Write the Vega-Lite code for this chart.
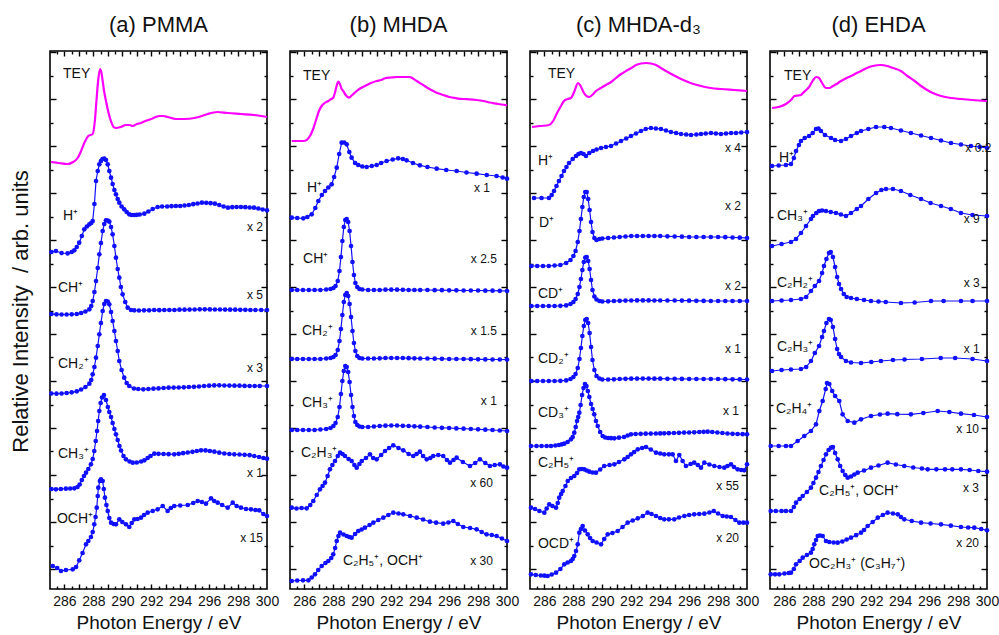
{
  "$schema": "https://vega.github.io/schema/vega-lite/v6.json",
  "background": "white",
  "padding": {"left": 8, "top": 13, "right": 10, "bottom": 5},
  "bounds": "flush",
  "spacing": 23,
  "config": {
    "font": "Arial, Liberation Sans, sans-serif",
    "view": {"stroke": "#000000", "strokeWidth": 1.6},
    "axis": {"domain": false, "grid": false, "tickColor": "#000000", "tickWidth": 1.4, "labelColor": "#111111", "labelFont": "Arial, Liberation Sans, sans-serif", "titleFont": "Arial, Liberation Sans, sans-serif", "titleColor": "#111111", "titleFontWeight": "normal", "minExtent": 0},
    "title": {"fontSize": 22, "fontWeight": "normal", "color": "#111111", "offset": 13, "font": "Arial, Liberation Sans, sans-serif"},
    "text": {"font": "Arial, Liberation Sans, sans-serif", "color": "#111111"}
  },
  "datasets": {
    "pmma": [
      {"s":"TEY","e":285.07,"i":427},{"s":"TEY","e":285.6,"i":426},{"s":"TEY","e":286.22,"i":425},{"s":"TEY","e":286.6,"i":427},{"s":"TEY","e":286.91,"i":431},{"s":"TEY","e":287.15,"i":438},{"s":"TEY","e":287.37,"i":446},{"s":"TEY","e":287.65,"i":453},{"s":"TEY","e":287.95,"i":455},{"s":"TEY","e":288.1,"i":468},{"s":"TEY","e":288.22,"i":490},{"s":"TEY","e":288.34,"i":510},{"s":"TEY","e":288.46,"i":520},{"s":"TEY","e":288.56,"i":516},{"s":"TEY","e":288.64,"i":508},{"s":"TEY","e":288.75,"i":497},{"s":"TEY","e":288.87,"i":488},{"s":"TEY","e":289.05,"i":476},{"s":"TEY","e":289.21,"i":468},{"s":"TEY","e":289.4,"i":462},{"s":"TEY","e":289.56,"i":461},{"s":"TEY","e":289.9,"i":462},{"s":"TEY","e":290.25,"i":464},{"s":"TEY","e":290.5,"i":464},{"s":"TEY","e":290.72,"i":463},{"s":"TEY","e":291.0,"i":465},{"s":"TEY","e":291.29,"i":466},{"s":"TEY","e":291.6,"i":468},{"s":"TEY","e":291.98,"i":470},{"s":"TEY","e":292.3,"i":472},{"s":"TEY","e":292.55,"i":473},{"s":"TEY","e":292.85,"i":473},{"s":"TEY","e":293.13,"i":472},{"s":"TEY","e":293.7,"i":470},{"s":"TEY","e":294.28,"i":470},{"s":"TEY","e":294.98,"i":471},{"s":"TEY","e":295.5,"i":473},{"s":"TEY","e":295.9,"i":475},{"s":"TEY","e":296.59,"i":477},{"s":"TEY","e":297.28,"i":476},{"s":"TEY","e":298.2,"i":475},{"s":"TEY","e":299.1,"i":474},{"s":"TEY","e":300,"i":472},
      {"s":"H+","e":285.1,"i":337},{"s":"H+","e":285.41,"i":338},{"s":"H+","e":285.8,"i":336},{"s":"H+","e":286.22,"i":335.7},{"s":"H+","e":286.5,"i":337},{"s":"H+","e":286.68,"i":338.7},{"s":"H+","e":286.85,"i":342},{"s":"H+","e":287.02,"i":346.3},{"s":"H+","e":287.2,"i":353},{"s":"H+","e":287.37,"i":359.7},{"s":"H+","e":287.55,"i":362.5},{"s":"H+","e":287.72,"i":364.7},{"s":"H+","e":287.85,"i":366},{"s":"H+","e":287.95,"i":368},{"s":"H+","e":288.07,"i":385},{"s":"H+","e":288.18,"i":408},{"s":"H+","e":288.3,"i":418},{"s":"H+","e":288.41,"i":424.7},{"s":"H+","e":288.52,"i":428},{"s":"H+","e":288.63,"i":430},{"s":"H+","e":288.75,"i":430.3},{"s":"H+","e":288.87,"i":429},{"s":"H+","e":288.99,"i":424.7},{"s":"H+","e":289.1,"i":418},{"s":"H+","e":289.22,"i":411.3},{"s":"H+","e":289.33,"i":405},{"s":"H+","e":289.45,"i":399},{"s":"H+","e":289.56,"i":394.7},{"s":"H+","e":289.68,"i":390},{"s":"H+","e":289.79,"i":386.3},{"s":"H+","e":289.95,"i":382.5},{"s":"H+","e":290.13,"i":379.7},{"s":"H+","e":290.3,"i":377},{"s":"H+","e":290.48,"i":374.7},{"s":"H+","e":290.65,"i":374},{"s":"H+","e":290.83,"i":374},{"s":"H+","e":291.0,"i":374.2},{"s":"H+","e":291.2,"i":374.5},{"s":"H+","e":291.52,"i":375.3},{"s":"H+","e":291.8,"i":377.5},{"s":"H+","e":292.1,"i":380},{"s":"H+","e":292.44,"i":382},{"s":"H+","e":292.75,"i":382.5},{"s":"H+","e":293.1,"i":382.5},{"s":"H+","e":293.4,"i":382.8},{"s":"H+","e":293.7,"i":383},{"s":"H+","e":294.0,"i":383},{"s":"H+","e":294.3,"i":383.5},{"s":"H+","e":294.6,"i":384},{"s":"H+","e":294.9,"i":384.8},{"s":"H+","e":295.2,"i":385.5},{"s":"H+","e":295.5,"i":386.3},{"s":"H+","e":295.8,"i":386.2},{"s":"H+","e":296.1,"i":385.8},{"s":"H+","e":296.4,"i":385.3},{"s":"H+","e":296.7,"i":384},{"s":"H+","e":297.0,"i":382.5},{"s":"H+","e":297.3,"i":381.3},{"s":"H+","e":297.6,"i":381.8},{"s":"H+","e":297.9,"i":382},{"s":"H+","e":298.2,"i":382},{"s":"H+","e":298.5,"i":381.8},{"s":"H+","e":298.8,"i":381.5},{"s":"H+","e":299.1,"i":381.3},{"s":"H+","e":299.4,"i":380.5},{"s":"H+","e":299.7,"i":379.5},{"s":"H+","e":300,"i":378.7},
      {"s":"CH+","e":285.1,"i":275},{"s":"CH+","e":285.45,"i":274.7},{"s":"CH+","e":285.8,"i":274.5},{"s":"CH+","e":286.15,"i":274.5},{"s":"CH+","e":286.5,"i":274.7},{"s":"CH+","e":286.85,"i":275},{"s":"CH+","e":287.15,"i":276},{"s":"CH+","e":287.45,"i":277.5},{"s":"CH+","e":287.72,"i":279.7},{"s":"CH+","e":287.85,"i":283},{"s":"CH+","e":287.95,"i":288},{"s":"CH+","e":288.07,"i":297},{"s":"CH+","e":288.18,"i":308},{"s":"CH+","e":288.3,"i":321},{"s":"CH+","e":288.41,"i":334.7},{"s":"CH+","e":288.52,"i":346},{"s":"CH+","e":288.64,"i":358},{"s":"CH+","e":288.75,"i":365},{"s":"CH+","e":288.87,"i":368.7},{"s":"CH+","e":288.99,"i":368.5},{"s":"CH+","e":289.1,"i":367.3},{"s":"CH+","e":289.22,"i":362},{"s":"CH+","e":289.33,"i":354.7},{"s":"CH+","e":289.45,"i":343},{"s":"CH+","e":289.56,"i":331.3},{"s":"CH+","e":289.68,"i":320},{"s":"CH+","e":289.79,"i":311.3},{"s":"CH+","e":289.9,"i":302},{"s":"CH+","e":290.02,"i":294.7},{"s":"CH+","e":290.2,"i":287},{"s":"CH+","e":290.37,"i":281.3},{"s":"CH+","e":290.6,"i":279},{"s":"CH+","e":290.83,"i":278.7},{"s":"CH+","e":291.15,"i":278.5},{"s":"CH+","e":291.5,"i":278.7},{"s":"CH+","e":291.85,"i":278.7},{"s":"CH+","e":292.2,"i":279},{"s":"CH+","e":292.55,"i":278.8},{"s":"CH+","e":292.9,"i":279},{"s":"CH+","e":293.25,"i":279},{"s":"CH+","e":293.6,"i":279},{"s":"CH+","e":293.95,"i":279.3},{"s":"CH+","e":294.3,"i":279.3},{"s":"CH+","e":294.65,"i":279.4},{"s":"CH+","e":295.0,"i":279.5},{"s":"CH+","e":295.35,"i":279.7},{"s":"CH+","e":295.7,"i":279.7},{"s":"CH+","e":296.05,"i":279.6},{"s":"CH+","e":296.4,"i":279.5},{"s":"CH+","e":296.75,"i":279.5},{"s":"CH+","e":297.1,"i":279.4},{"s":"CH+","e":297.45,"i":279.3},{"s":"CH+","e":297.8,"i":279.3},{"s":"CH+","e":298.15,"i":279.2},{"s":"CH+","e":298.5,"i":279.2},{"s":"CH+","e":298.85,"i":279},{"s":"CH+","e":299.2,"i":279},{"s":"CH+","e":299.6,"i":279},{"s":"CH+","e":300,"i":279},
      {"s":"CH2+","e":285.1,"i":195.5},{"s":"CH2+","e":285.45,"i":195.3},{"s":"CH2+","e":285.8,"i":195.5},{"s":"CH2+","e":286.15,"i":196},{"s":"CH2+","e":286.5,"i":196.7},{"s":"CH2+","e":286.85,"i":197.7},{"s":"CH2+","e":287.15,"i":199.5},{"s":"CH2+","e":287.45,"i":202},{"s":"CH2+","e":287.72,"i":205.3},{"s":"CH2+","e":287.85,"i":209},{"s":"CH2+","e":287.95,"i":214.7},{"s":"CH2+","e":288.07,"i":222},{"s":"CH2+","e":288.18,"i":231.3},{"s":"CH2+","e":288.3,"i":243},{"s":"CH2+","e":288.41,"i":254.7},{"s":"CH2+","e":288.52,"i":266},{"s":"CH2+","e":288.64,"i":278},{"s":"CH2+","e":288.75,"i":285},{"s":"CH2+","e":288.87,"i":288},{"s":"CH2+","e":288.99,"i":287.5},{"s":"CH2+","e":289.1,"i":284.7},{"s":"CH2+","e":289.22,"i":277},{"s":"CH2+","e":289.33,"i":268},{"s":"CH2+","e":289.45,"i":258},{"s":"CH2+","e":289.56,"i":248},{"s":"CH2+","e":289.68,"i":238},{"s":"CH2+","e":289.79,"i":228},{"s":"CH2+","e":289.95,"i":219},{"s":"CH2+","e":290.13,"i":211.3},{"s":"CH2+","e":290.3,"i":206},{"s":"CH2+","e":290.48,"i":203},{"s":"CH2+","e":290.8,"i":200.5},{"s":"CH2+","e":291.1,"i":200},{"s":"CH2+","e":291.45,"i":199.7},{"s":"CH2+","e":291.8,"i":200},{"s":"CH2+","e":292.15,"i":200.3},{"s":"CH2+","e":292.5,"i":200.6},{"s":"CH2+","e":292.85,"i":201},{"s":"CH2+","e":293.2,"i":201.3},{"s":"CH2+","e":293.55,"i":201.4},{"s":"CH2+","e":293.9,"i":201.5},{"s":"CH2+","e":294.25,"i":201.7},{"s":"CH2+","e":294.6,"i":202},{"s":"CH2+","e":294.95,"i":202.2},{"s":"CH2+","e":295.3,"i":202.5},{"s":"CH2+","e":295.65,"i":203},{"s":"CH2+","e":296.0,"i":203.3},{"s":"CH2+","e":296.35,"i":203.6},{"s":"CH2+","e":296.7,"i":203.7},{"s":"CH2+","e":297.05,"i":203.5},{"s":"CH2+","e":297.4,"i":203.4},{"s":"CH2+","e":297.75,"i":203.3},{"s":"CH2+","e":298.1,"i":203.3},{"s":"CH2+","e":298.45,"i":203.1},{"s":"CH2+","e":298.8,"i":203},{"s":"CH2+","e":299.15,"i":203},{"s":"CH2+","e":299.5,"i":203},{"s":"CH2+","e":300,"i":203},
      {"s":"CH3+","e":285.1,"i":100},{"s":"CH3+","e":285.41,"i":99.7},{"s":"CH3+","e":285.75,"i":100},{"s":"CH3+","e":286.1,"i":100.3},{"s":"CH3+","e":286.4,"i":100.5},{"s":"CH3+","e":286.68,"i":100.7},{"s":"CH3+","e":286.9,"i":102},{"s":"CH3+","e":287.05,"i":104.5},{"s":"CH3+","e":287.2,"i":109},{"s":"CH3+","e":287.35,"i":113},{"s":"CH3+","e":287.49,"i":116.3},{"s":"CH3+","e":287.65,"i":120},{"s":"CH3+","e":287.83,"i":124.7},{"s":"CH3+","e":287.95,"i":130},{"s":"CH3+","e":288.06,"i":138},{"s":"CH3+","e":288.16,"i":148},{"s":"CH3+","e":288.25,"i":158},{"s":"CH3+","e":288.33,"i":168},{"s":"CH3+","e":288.41,"i":178},{"s":"CH3+","e":288.5,"i":186},{"s":"CH3+","e":288.6,"i":191.5},{"s":"CH3+","e":288.73,"i":194},{"s":"CH3+","e":288.87,"i":189},{"s":"CH3+","e":289.0,"i":182},{"s":"CH3+","e":289.1,"i":177},{"s":"CH3+","e":289.22,"i":172},{"s":"CH3+","e":289.33,"i":166},{"s":"CH3+","e":289.45,"i":160},{"s":"CH3+","e":289.56,"i":154.7},{"s":"CH3+","e":289.68,"i":149},{"s":"CH3+","e":289.8,"i":143},{"s":"CH3+","e":289.91,"i":138.5},{"s":"CH3+","e":290.08,"i":133},{"s":"CH3+","e":290.25,"i":129.7},{"s":"CH3+","e":290.5,"i":127.5},{"s":"CH3+","e":290.72,"i":126.3},{"s":"CH3+","e":291.0,"i":126.5},{"s":"CH3+","e":291.3,"i":127.5},{"s":"CH3+","e":291.52,"i":128.7},{"s":"CH3+","e":291.75,"i":131},{"s":"CH3+","e":291.95,"i":133},{"s":"CH3+","e":292.21,"i":135.3},{"s":"CH3+","e":292.5,"i":135.2},{"s":"CH3+","e":292.85,"i":135},{"s":"CH3+","e":293.2,"i":134.8},{"s":"CH3+","e":293.59,"i":134.7},{"s":"CH3+","e":293.9,"i":135.2},{"s":"CH3+","e":294.2,"i":135.8},{"s":"CH3+","e":294.52,"i":136.5},{"s":"CH3+","e":294.85,"i":137.2},{"s":"CH3+","e":295.15,"i":138},{"s":"CH3+","e":295.44,"i":138.7},{"s":"CH3+","e":295.75,"i":138.6},{"s":"CH3+","e":296.05,"i":138},{"s":"CH3+","e":296.36,"i":137.3},{"s":"CH3+","e":296.7,"i":136.3},{"s":"CH3+","e":297.05,"i":135.5},{"s":"CH3+","e":297.4,"i":135},{"s":"CH3+","e":297.74,"i":134.7},{"s":"CH3+","e":298.1,"i":134.5},{"s":"CH3+","e":298.45,"i":134.2},{"s":"CH3+","e":298.8,"i":133.8},{"s":"CH3+","e":299.12,"i":133},{"s":"CH3+","e":299.45,"i":132},{"s":"CH3+","e":299.75,"i":131},{"s":"CH3+","e":300,"i":130.3},
      {"s":"OCH+","e":285.19,"i":23},{"s":"OCH+","e":285.5,"i":21},{"s":"OCH+","e":285.76,"i":18},{"s":"OCH+","e":286.1,"i":19},{"s":"OCH+","e":286.57,"i":19.7},{"s":"OCH+","e":286.8,"i":22},{"s":"OCH+","e":287.02,"i":28.7},{"s":"OCH+","e":287.25,"i":36},{"s":"OCH+","e":287.49,"i":44.7},{"s":"OCH+","e":287.65,"i":48},{"s":"OCH+","e":287.83,"i":52},{"s":"OCH+","e":287.95,"i":57},{"s":"OCH+","e":288.06,"i":64.7},{"s":"OCH+","e":288.15,"i":72},{"s":"OCH+","e":288.23,"i":81.3},{"s":"OCH+","e":288.3,"i":93},{"s":"OCH+","e":288.34,"i":101.3},{"s":"OCH+","e":288.45,"i":108},{"s":"OCH+","e":288.52,"i":109.7},{"s":"OCH+","e":288.64,"i":108},{"s":"OCH+","e":288.72,"i":100},{"s":"OCH+","e":288.8,"i":91.3},{"s":"OCH+","e":288.9,"i":84},{"s":"OCH+","e":288.99,"i":78},{"s":"OCH+","e":289.1,"i":71},{"s":"OCH+","e":289.22,"i":66.3},{"s":"OCH+","e":289.4,"i":65},{"s":"OCH+","e":289.56,"i":64.7},{"s":"OCH+","e":289.79,"i":69.7},{"s":"OCH+","e":290.0,"i":67},{"s":"OCH+","e":290.25,"i":64.7},{"s":"OCH+","e":290.48,"i":62},{"s":"OCH+","e":290.65,"i":66},{"s":"OCH+","e":290.83,"i":69.7},{"s":"OCH+","e":291.05,"i":70},{"s":"OCH+","e":291.29,"i":71.3},{"s":"OCH+","e":291.5,"i":74},{"s":"OCH+","e":291.75,"i":76.3},{"s":"OCH+","e":292.1,"i":78},{"s":"OCH+","e":292.44,"i":79.7},{"s":"OCH+","e":292.79,"i":83},{"s":"OCH+","e":293.13,"i":78},{"s":"OCH+","e":293.35,"i":81},{"s":"OCH+","e":293.59,"i":83},{"s":"OCH+","e":294.0,"i":83.5},{"s":"OCH+","e":294.52,"i":84},{"s":"OCH+","e":294.9,"i":86},{"s":"OCH+","e":295.21,"i":88},{"s":"OCH+","e":295.5,"i":87},{"s":"OCH+","e":295.78,"i":85.3},{"s":"OCH+","e":296.13,"i":90.7},{"s":"OCH+","e":296.35,"i":88},{"s":"OCH+","e":296.59,"i":86.3},{"s":"OCH+","e":296.9,"i":84},{"s":"OCH+","e":297.28,"i":81.3},{"s":"OCH+","e":297.63,"i":86.3},{"s":"OCH+","e":297.9,"i":83},{"s":"OCH+","e":298.2,"i":81.3},{"s":"OCH+","e":298.55,"i":80},{"s":"OCH+","e":298.89,"i":79.7},{"s":"OCH+","e":299.2,"i":79},{"s":"OCH+","e":299.46,"i":78.7},{"s":"OCH+","e":299.75,"i":75},{"s":"OCH+","e":300,"i":73}
    ],
    "mhda": [
      {"s":"TEY","e":285.12,"i":448},{"s":"TEY","e":285.5,"i":448},{"s":"TEY","e":285.92,"i":448},{"s":"TEY","e":286.15,"i":449},{"s":"TEY","e":286.38,"i":453},{"s":"TEY","e":286.6,"i":460},{"s":"TEY","e":286.85,"i":471.3},{"s":"TEY","e":287.0,"i":478},{"s":"TEY","e":287.19,"i":483},{"s":"TEY","e":287.4,"i":486},{"s":"TEY","e":287.65,"i":488},{"s":"TEY","e":287.85,"i":490},{"s":"TEY","e":287.99,"i":491.3},{"s":"TEY","e":288.1,"i":496},{"s":"TEY","e":288.22,"i":503},{"s":"TEY","e":288.34,"i":507.3},{"s":"TEY","e":288.45,"i":505},{"s":"TEY","e":288.57,"i":500},{"s":"TEY","e":288.68,"i":498},{"s":"TEY","e":288.85,"i":494},{"s":"TEY","e":289.08,"i":491.3},{"s":"TEY","e":289.3,"i":494},{"s":"TEY","e":289.61,"i":498},{"s":"TEY","e":289.9,"i":501},{"s":"TEY","e":290.18,"i":503},{"s":"TEY","e":290.6,"i":506},{"s":"TEY","e":290.99,"i":508},{"s":"TEY","e":291.3,"i":509},{"s":"TEY","e":291.57,"i":510.7},{"s":"TEY","e":292.0,"i":511.5},{"s":"TEY","e":292.37,"i":512},{"s":"TEY","e":292.8,"i":512},{"s":"TEY","e":293.29,"i":512},{"s":"TEY","e":293.5,"i":510.5},{"s":"TEY","e":293.76,"i":508},{"s":"TEY","e":294.2,"i":504},{"s":"TEY","e":294.67,"i":499.7},{"s":"TEY","e":295.1,"i":496.5},{"s":"TEY","e":295.59,"i":494},{"s":"TEY","e":296.0,"i":492},{"s":"TEY","e":296.52,"i":490.7},{"s":"TEY","e":297.0,"i":490},{"s":"TEY","e":297.44,"i":489.7},{"s":"TEY","e":297.9,"i":489},{"s":"TEY","e":298.36,"i":488},{"s":"TEY","e":298.8,"i":486.5},{"s":"TEY","e":299.28,"i":485.3},{"s":"TEY","e":299.6,"i":484.5},{"s":"TEY","e":300,"i":483.7},
      {"s":"H+","e":285.12,"i":371.3},{"s":"H+","e":285.5,"i":371},{"s":"H+","e":285.92,"i":370.7},{"s":"H+","e":286.2,"i":372},{"s":"H+","e":286.5,"i":374.7},{"s":"H+","e":286.75,"i":381},{"s":"H+","e":286.96,"i":388},{"s":"H+","e":287.2,"i":394},{"s":"H+","e":287.42,"i":398},{"s":"H+","e":287.65,"i":401.5},{"s":"H+","e":287.88,"i":404.7},{"s":"H+","e":288.05,"i":412},{"s":"H+","e":288.23,"i":421.3},{"s":"H+","e":288.4,"i":435},{"s":"H+","e":288.57,"i":446.3},{"s":"H+","e":288.75,"i":446.5},{"s":"H+","e":288.92,"i":444.7},{"s":"H+","e":289.1,"i":437},{"s":"H+","e":289.26,"i":431.3},{"s":"H+","e":289.5,"i":426},{"s":"H+","e":289.72,"i":424},{"s":"H+","e":290.0,"i":422.5},{"s":"H+","e":290.3,"i":422},{"s":"H+","e":290.65,"i":423},{"s":"H+","e":290.99,"i":424},{"s":"H+","e":291.3,"i":426},{"s":"H+","e":291.68,"i":428},{"s":"H+","e":292.1,"i":429.5},{"s":"H+","e":292.48,"i":430.7},{"s":"H+","e":292.8,"i":430},{"s":"H+","e":293.06,"i":428.7},{"s":"H+","e":293.5,"i":426},{"s":"H+","e":293.98,"i":423.7},{"s":"H+","e":294.5,"i":422},{"s":"H+","e":295.14,"i":420.3},{"s":"H+","e":295.8,"i":419},{"s":"H+","e":296.52,"i":418},{"s":"H+","e":297.2,"i":416.5},{"s":"H+","e":297.9,"i":415.3},{"s":"H+","e":298.6,"i":414},{"s":"H+","e":299.28,"i":413},{"s":"H+","e":299.7,"i":411.5},{"s":"H+","e":300,"i":410.3},
      {"s":"CH+","e":285.12,"i":299},{"s":"CH+","e":285.5,"i":299},{"s":"CH+","e":285.9,"i":299},{"s":"CH+","e":286.3,"i":299},{"s":"CH+","e":286.7,"i":299},{"s":"CH+","e":287.1,"i":299},{"s":"CH+","e":287.5,"i":299.5},{"s":"CH+","e":287.8,"i":300},{"s":"CH+","e":288.0,"i":301},{"s":"CH+","e":288.15,"i":303},{"s":"CH+","e":288.3,"i":308},{"s":"CH+","e":288.42,"i":318},{"s":"CH+","e":288.52,"i":332},{"s":"CH+","e":288.62,"i":348},{"s":"CH+","e":288.72,"i":362},{"s":"CH+","e":288.82,"i":369},{"s":"CH+","e":288.92,"i":370},{"s":"CH+","e":289.02,"i":367},{"s":"CH+","e":289.12,"i":358},{"s":"CH+","e":289.22,"i":343},{"s":"CH+","e":289.32,"i":327},{"s":"CH+","e":289.42,"i":314},{"s":"CH+","e":289.52,"i":306},{"s":"CH+","e":289.65,"i":302},{"s":"CH+","e":289.8,"i":300},{"s":"CH+","e":290.0,"i":299.5},{"s":"CH+","e":290.4,"i":299},{"s":"CH+","e":290.8,"i":299},{"s":"CH+","e":291.2,"i":299},{"s":"CH+","e":291.6,"i":299.3},{"s":"CH+","e":292.0,"i":299.3},{"s":"CH+","e":292.4,"i":299.3},{"s":"CH+","e":292.8,"i":299.2},{"s":"CH+","e":293.2,"i":299},{"s":"CH+","e":293.6,"i":299},{"s":"CH+","e":294.0,"i":299},{"s":"CH+","e":294.5,"i":299},{"s":"CH+","e":295.0,"i":298.8},{"s":"CH+","e":295.5,"i":298.8},{"s":"CH+","e":296.0,"i":298.7},{"s":"CH+","e":296.5,"i":298.7},{"s":"CH+","e":297.0,"i":298.5},{"s":"CH+","e":297.5,"i":298.5},{"s":"CH+","e":298.0,"i":298.5},{"s":"CH+","e":298.5,"i":298.3},{"s":"CH+","e":299.0,"i":298.3},{"s":"CH+","e":299.5,"i":298.2},{"s":"CH+","e":300,"i":298},
      {"s":"CH2+","e":285.12,"i":230},{"s":"CH2+","e":285.5,"i":230},{"s":"CH2+","e":285.9,"i":230},{"s":"CH2+","e":286.3,"i":230},{"s":"CH2+","e":286.7,"i":230},{"s":"CH2+","e":287.1,"i":230},{"s":"CH2+","e":287.5,"i":230.5},{"s":"CH2+","e":287.8,"i":231},{"s":"CH2+","e":288.0,"i":232},{"s":"CH2+","e":288.15,"i":234},{"s":"CH2+","e":288.3,"i":239},{"s":"CH2+","e":288.42,"i":248},{"s":"CH2+","e":288.52,"i":260},{"s":"CH2+","e":288.62,"i":274},{"s":"CH2+","e":288.72,"i":287},{"s":"CH2+","e":288.82,"i":294},{"s":"CH2+","e":288.92,"i":296},{"s":"CH2+","e":289.02,"i":293},{"s":"CH2+","e":289.12,"i":285},{"s":"CH2+","e":289.22,"i":272},{"s":"CH2+","e":289.32,"i":258},{"s":"CH2+","e":289.42,"i":246},{"s":"CH2+","e":289.52,"i":238},{"s":"CH2+","e":289.65,"i":233},{"s":"CH2+","e":289.8,"i":231},{"s":"CH2+","e":290.0,"i":230.5},{"s":"CH2+","e":290.4,"i":230.5},{"s":"CH2+","e":290.8,"i":230.5},{"s":"CH2+","e":291.2,"i":230.7},{"s":"CH2+","e":291.6,"i":231},{"s":"CH2+","e":292.0,"i":231},{"s":"CH2+","e":292.4,"i":231},{"s":"CH2+","e":292.8,"i":231},{"s":"CH2+","e":293.2,"i":230.8},{"s":"CH2+","e":293.6,"i":230.7},{"s":"CH2+","e":294.0,"i":230.5},{"s":"CH2+","e":294.5,"i":230.5},{"s":"CH2+","e":295.0,"i":230.3},{"s":"CH2+","e":295.5,"i":230.2},{"s":"CH2+","e":296.0,"i":230},{"s":"CH2+","e":296.5,"i":230},{"s":"CH2+","e":297.0,"i":230},{"s":"CH2+","e":297.5,"i":229.8},{"s":"CH2+","e":298.0,"i":229.7},{"s":"CH2+","e":298.5,"i":229.6},{"s":"CH2+","e":299.0,"i":229.5},{"s":"CH2+","e":299.5,"i":229.5},{"s":"CH2+","e":300,"i":229.4},
      {"s":"CH3+","e":285.12,"i":159},{"s":"CH3+","e":285.5,"i":159},{"s":"CH3+","e":285.9,"i":159},{"s":"CH3+","e":286.3,"i":159},{"s":"CH3+","e":286.7,"i":159},{"s":"CH3+","e":287.1,"i":159.5},{"s":"CH3+","e":287.5,"i":160},{"s":"CH3+","e":287.8,"i":161},{"s":"CH3+","e":288.0,"i":163},{"s":"CH3+","e":288.15,"i":166},{"s":"CH3+","e":288.3,"i":172},{"s":"CH3+","e":288.42,"i":182},{"s":"CH3+","e":288.52,"i":195},{"s":"CH3+","e":288.62,"i":208},{"s":"CH3+","e":288.72,"i":218},{"s":"CH3+","e":288.82,"i":223},{"s":"CH3+","e":288.92,"i":222},{"s":"CH3+","e":289.02,"i":217},{"s":"CH3+","e":289.12,"i":207},{"s":"CH3+","e":289.22,"i":194},{"s":"CH3+","e":289.32,"i":182},{"s":"CH3+","e":289.42,"i":173},{"s":"CH3+","e":289.52,"i":167},{"s":"CH3+","e":289.65,"i":164},{"s":"CH3+","e":289.8,"i":162.5},{"s":"CH3+","e":290.0,"i":162},{"s":"CH3+","e":290.4,"i":162},{"s":"CH3+","e":290.8,"i":162.5},{"s":"CH3+","e":291.2,"i":163},{"s":"CH3+","e":291.6,"i":163.3},{"s":"CH3+","e":292.0,"i":163.5},{"s":"CH3+","e":292.4,"i":163.5},{"s":"CH3+","e":292.8,"i":163.2},{"s":"CH3+","e":293.2,"i":163},{"s":"CH3+","e":293.6,"i":162.7},{"s":"CH3+","e":294.0,"i":162.3},{"s":"CH3+","e":294.5,"i":162},{"s":"CH3+","e":295.0,"i":161.5},{"s":"CH3+","e":295.5,"i":161.2},{"s":"CH3+","e":296.0,"i":161},{"s":"CH3+","e":296.5,"i":160.6},{"s":"CH3+","e":297.0,"i":160.3},{"s":"CH3+","e":297.5,"i":160},{"s":"CH3+","e":298.0,"i":159.7},{"s":"CH3+","e":298.5,"i":159.3},{"s":"CH3+","e":299.0,"i":159},{"s":"CH3+","e":299.5,"i":158.5},{"s":"CH3+","e":300,"i":158},
      {"s":"C2H3+","e":285.12,"i":81.3},{"s":"C2H3+","e":285.45,"i":80.5},{"s":"C2H3+","e":285.8,"i":81},{"s":"C2H3+","e":286.15,"i":80.7},{"s":"C2H3+","e":286.4,"i":84},{"s":"C2H3+","e":286.61,"i":88},{"s":"C2H3+","e":286.85,"i":94},{"s":"C2H3+","e":287.07,"i":99.7},{"s":"C2H3+","e":287.25,"i":103},{"s":"C2H3+","e":287.42,"i":106.3},{"s":"C2H3+","e":287.6,"i":113},{"s":"C2H3+","e":287.76,"i":119.7},{"s":"C2H3+","e":287.93,"i":124},{"s":"C2H3+","e":288.11,"i":128},{"s":"C2H3+","e":288.3,"i":133},{"s":"C2H3+","e":288.46,"i":136.3},{"s":"C2H3+","e":288.63,"i":135},{"s":"C2H3+","e":288.8,"i":133},{"s":"C2H3+","e":289.05,"i":130},{"s":"C2H3+","e":289.26,"i":128},{"s":"C2H3+","e":289.45,"i":124},{"s":"C2H3+","e":289.61,"i":121.3},{"s":"C2H3+","e":289.8,"i":125},{"s":"C2H3+","e":289.96,"i":128},{"s":"C2H3+","e":290.25,"i":131},{"s":"C2H3+","e":290.53,"i":134.7},{"s":"C2H3+","e":290.75,"i":131},{"s":"C2H3+","e":290.99,"i":129.7},{"s":"C2H3+","e":291.3,"i":134},{"s":"C2H3+","e":291.57,"i":138},{"s":"C2H3+","e":291.85,"i":141},{"s":"C2H3+","e":292.14,"i":143.7},{"s":"C2H3+","e":292.5,"i":141},{"s":"C2H3+","e":292.83,"i":138.7},{"s":"C2H3+","e":293.2,"i":135},{"s":"C2H3+","e":293.52,"i":133},{"s":"C2H3+","e":293.75,"i":135},{"s":"C2H3+","e":293.98,"i":137.3},{"s":"C2H3+","e":294.2,"i":133},{"s":"C2H3+","e":294.45,"i":129.7},{"s":"C2H3+","e":294.7,"i":131},{"s":"C2H3+","e":294.9,"i":133},{"s":"C2H3+","e":295.25,"i":134},{"s":"C2H3+","e":295.59,"i":133},{"s":"C2H3+","e":295.85,"i":129},{"s":"C2H3+","e":296.06,"i":126.3},{"s":"C2H3+","e":296.3,"i":129},{"s":"C2H3+","e":296.52,"i":131.3},{"s":"C2H3+","e":296.95,"i":127},{"s":"C2H3+","e":297.44,"i":123},{"s":"C2H3+","e":297.8,"i":126},{"s":"C2H3+","e":298.13,"i":129.7},{"s":"C2H3+","e":298.5,"i":126},{"s":"C2H3+","e":298.82,"i":123},{"s":"C2H3+","e":299.15,"i":124},{"s":"C2H3+","e":299.51,"i":124.7},{"s":"C2H3+","e":299.75,"i":122.5},{"s":"C2H3+","e":300,"i":121.3},
      {"s":"C2H5+","e":285.12,"i":8},{"s":"C2H5+","e":285.5,"i":8.5},{"s":"C2H5+","e":285.9,"i":8.7},{"s":"C2H5+","e":286.27,"i":8.7},{"s":"C2H5+","e":286.5,"i":11.5},{"s":"C2H5+","e":286.73,"i":14.7},{"s":"C2H5+","e":286.95,"i":19},{"s":"C2H5+","e":287.19,"i":23},{"s":"C2H5+","e":287.45,"i":26},{"s":"C2H5+","e":287.65,"i":28},{"s":"C2H5+","e":287.85,"i":31},{"s":"C2H5+","e":287.99,"i":34.7},{"s":"C2H5+","e":288.12,"i":41},{"s":"C2H5+","e":288.23,"i":48},{"s":"C2H5+","e":288.35,"i":53},{"s":"C2H5+","e":288.46,"i":56.3},{"s":"C2H5+","e":288.7,"i":54.5},{"s":"C2H5+","e":288.92,"i":53},{"s":"C2H5+","e":289.1,"i":52},{"s":"C2H5+","e":289.26,"i":51.3},{"s":"C2H5+","e":289.5,"i":55},{"s":"C2H5+","e":289.72,"i":58},{"s":"C2H5+","e":289.95,"i":59.5},{"s":"C2H5+","e":290.18,"i":61.3},{"s":"C2H5+","e":290.5,"i":64},{"s":"C2H5+","e":290.76,"i":66.3},{"s":"C2H5+","e":291.1,"i":69},{"s":"C2H5+","e":291.45,"i":71.3},{"s":"C2H5+","e":291.8,"i":74},{"s":"C2H5+","e":292.14,"i":76.3},{"s":"C2H5+","e":292.5,"i":75.5},{"s":"C2H5+","e":292.83,"i":74.7},{"s":"C2H5+","e":293.3,"i":73},{"s":"C2H5+","e":293.76,"i":71.3},{"s":"C2H5+","e":294.2,"i":69.5},{"s":"C2H5+","e":294.67,"i":67.3},{"s":"C2H5+","e":295.1,"i":66.3},{"s":"C2H5+","e":295.59,"i":65.3},{"s":"C2H5+","e":295.95,"i":66.5},{"s":"C2H5+","e":296.29,"i":68},{"s":"C2H5+","e":296.6,"i":65},{"s":"C2H5+","e":296.98,"i":62},{"s":"C2H5+","e":297.45,"i":61},{"s":"C2H5+","e":297.9,"i":59.7},{"s":"C2H5+","e":298.25,"i":57},{"s":"C2H5+","e":298.59,"i":54.7},{"s":"C2H5+","e":298.95,"i":54},{"s":"C2H5+","e":299.28,"i":53},{"s":"C2H5+","e":299.65,"i":50.5},{"s":"C2H5+","e":300,"i":48}
    ],
    "mhdad3": [
      {"s":"TEY","e":285.14,"i":462},{"s":"TEY","e":285.7,"i":463},{"s":"TEY","e":286.31,"i":464},{"s":"TEY","e":286.6,"i":468},{"s":"TEY","e":286.87,"i":476},{"s":"TEY","e":287.1,"i":482},{"s":"TEY","e":287.35,"i":488},{"s":"TEY","e":287.6,"i":490},{"s":"TEY","e":287.83,"i":491},{"s":"TEY","e":288.05,"i":497},{"s":"TEY","e":288.32,"i":506},{"s":"TEY","e":288.5,"i":503},{"s":"TEY","e":288.73,"i":496},{"s":"TEY","e":289.08,"i":492},{"s":"TEY","e":289.3,"i":494},{"s":"TEY","e":289.56,"i":498},{"s":"TEY","e":289.9,"i":501},{"s":"TEY","e":290.25,"i":504},{"s":"TEY","e":290.6,"i":507},{"s":"TEY","e":290.94,"i":511},{"s":"TEY","e":291.3,"i":515},{"s":"TEY","e":291.63,"i":518},{"s":"TEY","e":292.0,"i":521},{"s":"TEY","e":292.33,"i":524},{"s":"TEY","e":292.67,"i":525.5},{"s":"TEY","e":293.02,"i":526},{"s":"TEY","e":293.36,"i":525.5},{"s":"TEY","e":293.71,"i":524},{"s":"TEY","e":294.05,"i":521},{"s":"TEY","e":294.4,"i":518},{"s":"TEY","e":294.9,"i":514},{"s":"TEY","e":295.44,"i":510},{"s":"TEY","e":296.1,"i":506},{"s":"TEY","e":296.82,"i":503},{"s":"TEY","e":297.5,"i":501},{"s":"TEY","e":298.2,"i":500},{"s":"TEY","e":299.1,"i":499},{"s":"TEY","e":300,"i":498},
      {"s":"H+","e":285.28,"i":391},{"s":"H+","e":285.8,"i":391},{"s":"H+","e":286.31,"i":391},{"s":"H+","e":286.5,"i":394},{"s":"H+","e":286.66,"i":398},{"s":"H+","e":286.83,"i":403},{"s":"H+","e":287.0,"i":408},{"s":"H+","e":287.18,"i":413},{"s":"H+","e":287.35,"i":418},{"s":"H+","e":287.52,"i":422},{"s":"H+","e":287.7,"i":426},{"s":"H+","e":287.95,"i":430},{"s":"H+","e":288.18,"i":433},{"s":"H+","e":288.35,"i":435},{"s":"H+","e":288.52,"i":436},{"s":"H+","e":288.7,"i":435},{"s":"H+","e":288.87,"i":433},{"s":"H+","e":289.1,"i":436},{"s":"H+","e":289.35,"i":438},{"s":"H+","e":289.6,"i":439.5},{"s":"H+","e":289.91,"i":441},{"s":"H+","e":290.25,"i":442},{"s":"H+","e":290.6,"i":443},{"s":"H+","e":290.95,"i":445.5},{"s":"H+","e":291.29,"i":448},{"s":"H+","e":291.65,"i":450.5},{"s":"H+","e":291.98,"i":453},{"s":"H+","e":292.33,"i":455.5},{"s":"H+","e":292.67,"i":458},{"s":"H+","e":293.0,"i":460},{"s":"H+","e":293.36,"i":461},{"s":"H+","e":293.7,"i":460.5},{"s":"H+","e":294.05,"i":460},{"s":"H+","e":294.4,"i":458.5},{"s":"H+","e":294.74,"i":457},{"s":"H+","e":295.1,"i":456},{"s":"H+","e":295.44,"i":455},{"s":"H+","e":295.8,"i":454.5},{"s":"H+","e":296.13,"i":454},{"s":"H+","e":296.5,"i":454.5},{"s":"H+","e":296.82,"i":455},{"s":"H+","e":297.15,"i":455.5},{"s":"H+","e":297.51,"i":456},{"s":"H+","e":297.85,"i":455.5},{"s":"H+","e":298.2,"i":455},{"s":"H+","e":298.55,"i":455.5},{"s":"H+","e":298.9,"i":456},{"s":"H+","e":299.24,"i":456},{"s":"H+","e":299.6,"i":456.5},{"s":"H+","e":300,"i":457},
      {"s":"D+","e":285.1,"i":323},{"s":"D+","e":285.5,"i":323},{"s":"D+","e":285.9,"i":323},{"s":"D+","e":286.3,"i":323},{"s":"D+","e":286.7,"i":323.5},{"s":"D+","e":287.1,"i":324},{"s":"D+","e":287.5,"i":326},{"s":"D+","e":287.8,"i":329},{"s":"D+","e":288.0,"i":333},{"s":"D+","e":288.15,"i":338},{"s":"D+","e":288.3,"i":347},{"s":"D+","e":288.42,"i":358},{"s":"D+","e":288.52,"i":370},{"s":"D+","e":288.62,"i":382},{"s":"D+","e":288.72,"i":392},{"s":"D+","e":288.82,"i":397},{"s":"D+","e":288.92,"i":397},{"s":"D+","e":289.02,"i":390},{"s":"D+","e":289.12,"i":379},{"s":"D+","e":289.22,"i":367},{"s":"D+","e":289.32,"i":357},{"s":"D+","e":289.45,"i":351},{"s":"D+","e":289.6,"i":349},{"s":"D+","e":289.8,"i":350},{"s":"D+","e":290.0,"i":350.5},{"s":"D+","e":290.4,"i":351},{"s":"D+","e":290.8,"i":351.5},{"s":"D+","e":291.2,"i":352},{"s":"D+","e":291.6,"i":352.5},{"s":"D+","e":292.0,"i":353},{"s":"D+","e":292.4,"i":353},{"s":"D+","e":292.8,"i":353},{"s":"D+","e":293.2,"i":353},{"s":"D+","e":293.6,"i":353},{"s":"D+","e":294.0,"i":353},{"s":"D+","e":294.5,"i":352.7},{"s":"D+","e":295.0,"i":352.5},{"s":"D+","e":295.5,"i":352.3},{"s":"D+","e":296.0,"i":352},{"s":"D+","e":296.5,"i":352},{"s":"D+","e":297.0,"i":352},{"s":"D+","e":297.5,"i":352},{"s":"D+","e":298.0,"i":352},{"s":"D+","e":298.5,"i":351.8},{"s":"D+","e":299.0,"i":351.5},{"s":"D+","e":299.5,"i":351.3},{"s":"D+","e":300,"i":351},
      {"s":"CD+","e":285.1,"i":283},{"s":"CD+","e":285.5,"i":283},{"s":"CD+","e":285.9,"i":283},{"s":"CD+","e":286.3,"i":283},{"s":"CD+","e":286.7,"i":283},{"s":"CD+","e":287.1,"i":283.2},{"s":"CD+","e":287.5,"i":283.6},{"s":"CD+","e":287.8,"i":285},{"s":"CD+","e":288.0,"i":287},{"s":"CD+","e":288.15,"i":290},{"s":"CD+","e":288.3,"i":295},{"s":"CD+","e":288.42,"i":302},{"s":"CD+","e":288.52,"i":310},{"s":"CD+","e":288.62,"i":319},{"s":"CD+","e":288.72,"i":327},{"s":"CD+","e":288.82,"i":331.5},{"s":"CD+","e":288.92,"i":332},{"s":"CD+","e":289.02,"i":328},{"s":"CD+","e":289.12,"i":320},{"s":"CD+","e":289.22,"i":309},{"s":"CD+","e":289.32,"i":299},{"s":"CD+","e":289.45,"i":292.5},{"s":"CD+","e":289.6,"i":289.5},{"s":"CD+","e":289.8,"i":288},{"s":"CD+","e":290.0,"i":287.5},{"s":"CD+","e":290.4,"i":287.7},{"s":"CD+","e":290.8,"i":288},{"s":"CD+","e":291.2,"i":288.2},{"s":"CD+","e":291.6,"i":288.4},{"s":"CD+","e":292.0,"i":288.5},{"s":"CD+","e":292.4,"i":288.6},{"s":"CD+","e":292.8,"i":288.6},{"s":"CD+","e":293.2,"i":288.6},{"s":"CD+","e":293.6,"i":288.5},{"s":"CD+","e":294.0,"i":288.5},{"s":"CD+","e":294.5,"i":288.5},{"s":"CD+","e":295.0,"i":288.5},{"s":"CD+","e":295.5,"i":288.4},{"s":"CD+","e":296.0,"i":288.3},{"s":"CD+","e":296.5,"i":288.2},{"s":"CD+","e":297.0,"i":288.1},{"s":"CD+","e":297.5,"i":288},{"s":"CD+","e":298.0,"i":288},{"s":"CD+","e":298.5,"i":288},{"s":"CD+","e":299.0,"i":288},{"s":"CD+","e":299.5,"i":288},{"s":"CD+","e":300,"i":288},
      {"s":"CD2+","e":285.1,"i":208},{"s":"CD2+","e":285.5,"i":208},{"s":"CD2+","e":285.9,"i":208},{"s":"CD2+","e":286.3,"i":208},{"s":"CD2+","e":286.7,"i":208},{"s":"CD2+","e":287.1,"i":208.2},{"s":"CD2+","e":287.5,"i":208.6},{"s":"CD2+","e":287.8,"i":210},{"s":"CD2+","e":288.0,"i":212},{"s":"CD2+","e":288.15,"i":215},{"s":"CD2+","e":288.3,"i":221},{"s":"CD2+","e":288.42,"i":230},{"s":"CD2+","e":288.52,"i":241},{"s":"CD2+","e":288.62,"i":253},{"s":"CD2+","e":288.72,"i":263},{"s":"CD2+","e":288.82,"i":269},{"s":"CD2+","e":288.92,"i":270},{"s":"CD2+","e":289.02,"i":266},{"s":"CD2+","e":289.12,"i":256},{"s":"CD2+","e":289.22,"i":242},{"s":"CD2+","e":289.32,"i":229},{"s":"CD2+","e":289.45,"i":219},{"s":"CD2+","e":289.6,"i":213},{"s":"CD2+","e":289.8,"i":210.5},{"s":"CD2+","e":290.0,"i":209.5},{"s":"CD2+","e":290.4,"i":209.5},{"s":"CD2+","e":290.8,"i":209.7},{"s":"CD2+","e":291.2,"i":210},{"s":"CD2+","e":291.6,"i":210.2},{"s":"CD2+","e":292.0,"i":210.3},{"s":"CD2+","e":292.4,"i":210.4},{"s":"CD2+","e":292.8,"i":210.4},{"s":"CD2+","e":293.2,"i":210.4},{"s":"CD2+","e":293.6,"i":210.3},{"s":"CD2+","e":294.0,"i":210.3},{"s":"CD2+","e":294.5,"i":210.2},{"s":"CD2+","e":295.0,"i":210.2},{"s":"CD2+","e":295.5,"i":210.1},{"s":"CD2+","e":296.0,"i":210},{"s":"CD2+","e":296.5,"i":210},{"s":"CD2+","e":297.0,"i":210},{"s":"CD2+","e":297.5,"i":210},{"s":"CD2+","e":298.0,"i":210},{"s":"CD2+","e":298.5,"i":209.8},{"s":"CD2+","e":299.0,"i":209.7},{"s":"CD2+","e":299.5,"i":209.6},{"s":"CD2+","e":300,"i":209.5},
      {"s":"CD3+","e":285.07,"i":143},{"s":"CD3+","e":285.45,"i":143},{"s":"CD3+","e":285.8,"i":143},{"s":"CD3+","e":286.15,"i":143},{"s":"CD3+","e":286.45,"i":143},{"s":"CD3+","e":286.75,"i":143.5},{"s":"CD3+","e":287.0,"i":144},{"s":"CD3+","e":287.2,"i":144.7},{"s":"CD3+","e":287.37,"i":145.3},{"s":"CD3+","e":287.6,"i":147},{"s":"CD3+","e":287.83,"i":149.7},{"s":"CD3+","e":287.95,"i":152},{"s":"CD3+","e":288.06,"i":156.3},{"s":"CD3+","e":288.16,"i":162},{"s":"CD3+","e":288.25,"i":168},{"s":"CD3+","e":288.33,"i":172},{"s":"CD3+","e":288.41,"i":176.3},{"s":"CD3+","e":288.5,"i":184},{"s":"CD3+","e":288.6,"i":194},{"s":"CD3+","e":288.7,"i":201},{"s":"CD3+","e":288.8,"i":205},{"s":"CD3+","e":288.9,"i":203},{"s":"CD3+","e":289.0,"i":198},{"s":"CD3+","e":289.1,"i":192},{"s":"CD3+","e":289.22,"i":185},{"s":"CD3+","e":289.33,"i":180},{"s":"CD3+","e":289.44,"i":174.7},{"s":"CD3+","e":289.56,"i":168},{"s":"CD3+","e":289.68,"i":163},{"s":"CD3+","e":289.85,"i":157},{"s":"CD3+","e":290.02,"i":153},{"s":"CD3+","e":290.2,"i":151.5},{"s":"CD3+","e":290.4,"i":151},{"s":"CD3+","e":290.6,"i":150.8},{"s":"CD3+","e":290.83,"i":150.7},{"s":"CD3+","e":291.15,"i":151.3},{"s":"CD3+","e":291.5,"i":152},{"s":"CD3+","e":291.75,"i":153.5},{"s":"CD3+","e":291.98,"i":154.7},{"s":"CD3+","e":292.3,"i":155},{"s":"CD3+","e":292.65,"i":155.2},{"s":"CD3+","e":293.0,"i":155.3},{"s":"CD3+","e":293.35,"i":155.4},{"s":"CD3+","e":293.7,"i":155.5},{"s":"CD3+","e":294.0,"i":155.6},{"s":"CD3+","e":294.28,"i":155.7},{"s":"CD3+","e":294.6,"i":155.8},{"s":"CD3+","e":294.95,"i":156},{"s":"CD3+","e":295.3,"i":156.2},{"s":"CD3+","e":295.65,"i":156.4},{"s":"CD3+","e":296.0,"i":156.5},{"s":"CD3+","e":296.35,"i":156.7},{"s":"CD3+","e":296.7,"i":157},{"s":"CD3+","e":297.0,"i":157.2},{"s":"CD3+","e":297.28,"i":157.3},{"s":"CD3+","e":297.6,"i":157},{"s":"CD3+","e":297.95,"i":156.5},{"s":"CD3+","e":298.3,"i":156},{"s":"CD3+","e":298.65,"i":155.5},{"s":"CD3+","e":299.0,"i":155.2},{"s":"CD3+","e":299.35,"i":155},{"s":"CD3+","e":299.7,"i":154.8},{"s":"CD3+","e":300,"i":154.7},
      {"s":"C2H5+","e":285.07,"i":81.3},{"s":"C2H5+","e":285.35,"i":80},{"s":"C2H5+","e":285.65,"i":78},{"s":"C2H5+","e":285.99,"i":76.3},{"s":"C2H5+","e":286.15,"i":80.5},{"s":"C2H5+","e":286.33,"i":84.7},{"s":"C2H5+","e":286.55,"i":83},{"s":"C2H5+","e":286.8,"i":81.3},{"s":"C2H5+","e":286.92,"i":86},{"s":"C2H5+","e":287.02,"i":91.3},{"s":"C2H5+","e":287.15,"i":95},{"s":"C2H5+","e":287.26,"i":98},{"s":"C2H5+","e":287.45,"i":103},{"s":"C2H5+","e":287.61,"i":108},{"s":"C2H5+","e":287.83,"i":111},{"s":"C2H5+","e":288.06,"i":113},{"s":"C2H5+","e":288.25,"i":116},{"s":"C2H5+","e":288.41,"i":119.7},{"s":"C2H5+","e":288.58,"i":120},{"s":"C2H5+","e":288.75,"i":119.7},{"s":"C2H5+","e":288.92,"i":118.5},{"s":"C2H5+","e":289.1,"i":117.3},{"s":"C2H5+","e":289.33,"i":116.5},{"s":"C2H5+","e":289.56,"i":116.3},{"s":"C2H5+","e":289.85,"i":119.5},{"s":"C2H5+","e":290.13,"i":123},{"s":"C2H5+","e":290.5,"i":124},{"s":"C2H5+","e":290.83,"i":124.7},{"s":"C2H5+","e":291.15,"i":127},{"s":"C2H5+","e":291.52,"i":129.7},{"s":"C2H5+","e":291.75,"i":132},{"s":"C2H5+","e":291.98,"i":134.7},{"s":"C2H5+","e":292.2,"i":137},{"s":"C2H5+","e":292.45,"i":139.7},{"s":"C2H5+","e":292.75,"i":141},{"s":"C2H5+","e":293.02,"i":142},{"s":"C2H5+","e":293.35,"i":139.5},{"s":"C2H5+","e":293.71,"i":136.3},{"s":"C2H5+","e":294.0,"i":135.5},{"s":"C2H5+","e":294.28,"i":134.7},{"s":"C2H5+","e":294.6,"i":134.7},{"s":"C2H5+","e":294.86,"i":134.7},{"s":"C2H5+","e":295.09,"i":128},{"s":"C2H5+","e":295.32,"i":134},{"s":"C2H5+","e":295.55,"i":128},{"s":"C2H5+","e":295.78,"i":123},{"s":"C2H5+","e":296.1,"i":125},{"s":"C2H5+","e":296.35,"i":126.3},{"s":"C2H5+","e":296.6,"i":124},{"s":"C2H5+","e":296.82,"i":121.3},{"s":"C2H5+","e":297.05,"i":126.3},{"s":"C2H5+","e":297.4,"i":124.5},{"s":"C2H5+","e":297.74,"i":123},{"s":"C2H5+","e":298.1,"i":122},{"s":"C2H5+","e":298.43,"i":121.3},{"s":"C2H5+","e":298.65,"i":123},{"s":"C2H5+","e":298.89,"i":124.7},{"s":"C2H5+","e":299.1,"i":122},{"s":"C2H5+","e":299.35,"i":119.7},{"s":"C2H5+","e":299.6,"i":119},{"s":"C2H5+","e":299.81,"i":118.7},{"s":"C2H5+","e":300,"i":124.7},
      {"s":"OCD+","e":285.07,"i":14.7},{"s":"OCD+","e":285.4,"i":14},{"s":"OCD+","e":285.75,"i":13.5},{"s":"OCD+","e":286.0,"i":13.3},{"s":"OCD+","e":286.22,"i":13},{"s":"OCD+","e":286.5,"i":14.5},{"s":"OCD+","e":286.8,"i":16.3},{"s":"OCD+","e":287.1,"i":20},{"s":"OCD+","e":287.37,"i":24.7},{"s":"OCD+","e":287.6,"i":26.5},{"s":"OCD+","e":287.83,"i":28},{"s":"OCD+","e":287.95,"i":30},{"s":"OCD+","e":288.06,"i":33},{"s":"OCD+","e":288.18,"i":38},{"s":"OCD+","e":288.3,"i":44.7},{"s":"OCD+","e":288.41,"i":56.3},{"s":"OCD+","e":288.52,"i":60},{"s":"OCD+","e":288.64,"i":63},{"s":"OCD+","e":288.8,"i":58.5},{"s":"OCD+","e":288.99,"i":54.7},{"s":"OCD+","e":289.15,"i":51},{"s":"OCD+","e":289.33,"i":48},{"s":"OCD+","e":289.6,"i":46.5},{"s":"OCD+","e":289.91,"i":44.7},{"s":"OCD+","e":290.13,"i":50},{"s":"OCD+","e":290.37,"i":54.7},{"s":"OCD+","e":290.7,"i":56},{"s":"OCD+","e":291.06,"i":58},{"s":"OCD+","e":291.4,"i":62},{"s":"OCD+","e":291.75,"i":66.3},{"s":"OCD+","e":292.1,"i":68.5},{"s":"OCD+","e":292.45,"i":70.7},{"s":"OCD+","e":292.8,"i":73},{"s":"OCD+","e":293.13,"i":76.3},{"s":"OCD+","e":293.4,"i":75},{"s":"OCD+","e":293.71,"i":73},{"s":"OCD+","e":294.0,"i":71},{"s":"OCD+","e":294.28,"i":69.7},{"s":"OCD+","e":294.6,"i":69.7},{"s":"OCD+","e":294.97,"i":69.7},{"s":"OCD+","e":295.3,"i":71.5},{"s":"OCD+","e":295.67,"i":73},{"s":"OCD+","e":296.0,"i":74},{"s":"OCD+","e":296.35,"i":74.7},{"s":"OCD+","e":296.7,"i":75},{"s":"OCD+","e":297.05,"i":75.3},{"s":"OCD+","e":297.4,"i":76.5},{"s":"OCD+","e":297.7,"i":78},{"s":"OCD+","e":298.0,"i":75.5},{"s":"OCD+","e":298.32,"i":73},{"s":"OCD+","e":298.6,"i":72.5},{"s":"OCD+","e":298.89,"i":72},{"s":"OCD+","e":299.2,"i":69},{"s":"OCD+","e":299.47,"i":66.3},{"s":"OCD+","e":299.75,"i":66.3},{"s":"OCD+","e":300,"i":66.3}
    ],
    "ehda": [
      {"s":"TEY","e":285.14,"i":481},{"s":"TEY","e":285.6,"i":482},{"s":"TEY","e":286.1,"i":485},{"s":"TEY","e":286.45,"i":489},{"s":"TEY","e":286.7,"i":493},{"s":"TEY","e":286.94,"i":493.5},{"s":"TEY","e":287.14,"i":494},{"s":"TEY","e":287.28,"i":496},{"s":"TEY","e":287.5,"i":499},{"s":"TEY","e":287.7,"i":502},{"s":"TEY","e":287.9,"i":507},{"s":"TEY","e":288.04,"i":510},{"s":"TEY","e":288.2,"i":512},{"s":"TEY","e":288.39,"i":511},{"s":"TEY","e":288.6,"i":506},{"s":"TEY","e":288.87,"i":501},{"s":"TEY","e":289.1,"i":501},{"s":"TEY","e":289.35,"i":503},{"s":"TEY","e":289.6,"i":505},{"s":"TEY","e":289.91,"i":508},{"s":"TEY","e":290.3,"i":511},{"s":"TEY","e":290.6,"i":513},{"s":"TEY","e":291.0,"i":516},{"s":"TEY","e":291.29,"i":518},{"s":"TEY","e":291.7,"i":521},{"s":"TEY","e":292.1,"i":523},{"s":"TEY","e":292.67,"i":524},{"s":"TEY","e":293.1,"i":523},{"s":"TEY","e":293.5,"i":521},{"s":"TEY","e":294.05,"i":518},{"s":"TEY","e":294.5,"i":513},{"s":"TEY","e":295.0,"i":508},{"s":"TEY","e":295.44,"i":503},{"s":"TEY","e":296.1,"i":497},{"s":"TEY","e":296.82,"i":493},{"s":"TEY","e":297.5,"i":491},{"s":"TEY","e":298.2,"i":490},{"s":"TEY","e":299.0,"i":489},{"s":"TEY","e":300,"i":488},
      {"s":"H+","e":285.14,"i":423},{"s":"H+","e":285.6,"i":423.5},{"s":"H+","e":286.1,"i":424},{"s":"H+","e":286.45,"i":425},{"s":"H+","e":286.65,"i":431},{"s":"H+","e":286.8,"i":438},{"s":"H+","e":287.0,"i":444},{"s":"H+","e":287.14,"i":448},{"s":"H+","e":287.4,"i":451},{"s":"H+","e":287.7,"i":453},{"s":"H+","e":287.95,"i":456},{"s":"H+","e":288.18,"i":460},{"s":"H+","e":288.35,"i":460.5},{"s":"H+","e":288.52,"i":458},{"s":"H+","e":288.8,"i":454},{"s":"H+","e":289.22,"i":451},{"s":"H+","e":289.5,"i":449},{"s":"H+","e":289.91,"i":448},{"s":"H+","e":290.25,"i":450},{"s":"H+","e":290.6,"i":453},{"s":"H+","e":291.0,"i":456},{"s":"H+","e":291.29,"i":458},{"s":"H+","e":291.8,"i":460},{"s":"H+","e":292.33,"i":462},{"s":"H+","e":292.9,"i":462},{"s":"H+","e":293.36,"i":461},{"s":"H+","e":294.05,"i":458.5},{"s":"H+","e":294.74,"i":456},{"s":"H+","e":295.44,"i":453.5},{"s":"H+","e":296.13,"i":451},{"s":"H+","e":296.82,"i":448.5},{"s":"H+","e":297.51,"i":446},{"s":"H+","e":298.2,"i":444.5},{"s":"H+","e":298.89,"i":443},{"s":"H+","e":299.5,"i":442},{"s":"H+","e":300,"i":441},
      {"s":"CH3+","e":285.14,"i":343},{"s":"CH3+","e":285.8,"i":345},{"s":"CH3+","e":286.45,"i":347},{"s":"CH3+","e":286.8,"i":350},{"s":"CH3+","e":287.14,"i":356},{"s":"CH3+","e":287.49,"i":363},{"s":"CH3+","e":287.83,"i":370},{"s":"CH3+","e":287.97,"i":373},{"s":"CH3+","e":288.2,"i":376},{"s":"CH3+","e":288.39,"i":378},{"s":"CH3+","e":288.6,"i":378.5},{"s":"CH3+","e":288.87,"i":378},{"s":"CH3+","e":289.2,"i":377},{"s":"CH3+","e":289.56,"i":376},{"s":"CH3+","e":289.9,"i":374.5},{"s":"CH3+","e":290.25,"i":373},{"s":"CH3+","e":290.6,"i":376},{"s":"CH3+","e":291.0,"i":380},{"s":"CH3+","e":291.29,"i":383},{"s":"CH3+","e":291.8,"i":390},{"s":"CH3+","e":292.33,"i":396},{"s":"CH3+","e":292.7,"i":399},{"s":"CH3+","e":293.02,"i":400},{"s":"CH3+","e":293.5,"i":400},{"s":"CH3+","e":294.05,"i":398},{"s":"CH3+","e":294.7,"i":394},{"s":"CH3+","e":295.44,"i":390},{"s":"CH3+","e":296.1,"i":386},{"s":"CH3+","e":296.82,"i":383},{"s":"CH3+","e":297.5,"i":380},{"s":"CH3+","e":298.2,"i":376},{"s":"CH3+","e":299.0,"i":374},{"s":"CH3+","e":300,"i":373},
      {"s":"C2H2+","e":285.14,"i":288},{"s":"C2H2+","e":285.8,"i":288.5},{"s":"C2H2+","e":286.45,"i":289},{"s":"C2H2+","e":287.14,"i":290},{"s":"C2H2+","e":287.5,"i":292},{"s":"C2H2+","e":287.83,"i":298},{"s":"C2H2+","e":288.1,"i":303},{"s":"C2H2+","e":288.39,"i":308},{"s":"C2H2+","e":288.6,"i":316},{"s":"C2H2+","e":288.73,"i":323},{"s":"C2H2+","e":288.9,"i":330},{"s":"C2H2+","e":289.08,"i":336},{"s":"C2H2+","e":289.2,"i":337},{"s":"C2H2+","e":289.35,"i":332},{"s":"C2H2+","e":289.5,"i":322},{"s":"C2H2+","e":289.64,"i":312},{"s":"C2H2+","e":289.77,"i":305},{"s":"C2H2+","e":289.91,"i":300},{"s":"C2H2+","e":290.1,"i":295},{"s":"C2H2+","e":290.3,"i":292},{"s":"C2H2+","e":290.6,"i":291},{"s":"C2H2+","e":291.0,"i":290},{"s":"C2H2+","e":291.5,"i":289},{"s":"C2H2+","e":291.98,"i":288},{"s":"C2H2+","e":292.5,"i":287.5},{"s":"C2H2+","e":293.0,"i":287},{"s":"C2H2+","e":294.05,"i":286},{"s":"C2H2+","e":295.0,"i":286.5},{"s":"C2H2+","e":296.13,"i":288},{"s":"C2H2+","e":297.0,"i":288},{"s":"C2H2+","e":298.2,"i":288},{"s":"C2H2+","e":299.0,"i":288},{"s":"C2H2+","e":300,"i":288},
      {"s":"C2H3+","e":285.14,"i":218},{"s":"C2H3+","e":285.8,"i":219},{"s":"C2H3+","e":286.45,"i":219.5},{"s":"C2H3+","e":287.14,"i":220},{"s":"C2H3+","e":287.5,"i":222},{"s":"C2H3+","e":287.83,"i":228},{"s":"C2H3+","e":288.1,"i":236},{"s":"C2H3+","e":288.39,"i":243},{"s":"C2H3+","e":288.6,"i":252},{"s":"C2H3+","e":288.73,"i":258},{"s":"C2H3+","e":288.9,"i":266},{"s":"C2H3+","e":289.08,"i":270},{"s":"C2H3+","e":289.2,"i":269},{"s":"C2H3+","e":289.35,"i":262},{"s":"C2H3+","e":289.5,"i":250},{"s":"C2H3+","e":289.64,"i":240},{"s":"C2H3+","e":289.77,"i":235},{"s":"C2H3+","e":289.91,"i":232},{"s":"C2H3+","e":290.25,"i":228},{"s":"C2H3+","e":290.6,"i":226.5},{"s":"C2H3+","e":291.29,"i":226},{"s":"C2H3+","e":292.0,"i":227},{"s":"C2H3+","e":292.67,"i":228},{"s":"C2H3+","e":293.5,"i":229},{"s":"C2H3+","e":294.3,"i":229.5},{"s":"C2H3+","e":295.5,"i":230},{"s":"C2H3+","e":296.8,"i":231},{"s":"C2H3+","e":297.8,"i":231},{"s":"C2H3+","e":299.0,"i":230},{"s":"C2H3+","e":300,"i":228},
      {"s":"C2H4+","e":285.05,"i":143},{"s":"C2H4+","e":285.6,"i":143},{"s":"C2H4+","e":286.1,"i":143},{"s":"C2H4+","e":286.45,"i":143},{"s":"C2H4+","e":286.91,"i":148},{"s":"C2H4+","e":287.37,"i":153},{"s":"C2H4+","e":287.83,"i":158},{"s":"C2H4+","e":288.18,"i":164.7},{"s":"C2H4+","e":288.41,"i":178},{"s":"C2H4+","e":288.64,"i":188},{"s":"C2H4+","e":288.85,"i":200},{"s":"C2H4+","e":288.94,"i":206},{"s":"C2H4+","e":289.1,"i":205},{"s":"C2H4+","e":289.3,"i":198},{"s":"C2H4+","e":289.5,"i":193},{"s":"C2H4+","e":289.79,"i":188},{"s":"C2H4+","e":290.02,"i":174.7},{"s":"C2H4+","e":290.37,"i":168},{"s":"C2H4+","e":290.83,"i":166.3},{"s":"C2H4+","e":291.29,"i":169.7},{"s":"C2H4+","e":291.98,"i":173},{"s":"C2H4+","e":292.6,"i":174.5},{"s":"C2H4+","e":293.13,"i":175.3},{"s":"C2H4+","e":293.8,"i":174.8},{"s":"C2H4+","e":294.74,"i":174.7},{"s":"C2H4+","e":295.6,"i":176},{"s":"C2H4+","e":296.59,"i":178},{"s":"C2H4+","e":297.4,"i":177},{"s":"C2H4+","e":298.2,"i":175.3},{"s":"C2H4+","e":299.1,"i":174},{"s":"C2H4+","e":300,"i":172},
      {"s":"C2H5+","e":285.05,"i":78},{"s":"C2H5+","e":285.4,"i":78},{"s":"C2H5+","e":285.8,"i":78},{"s":"C2H5+","e":286.1,"i":78},{"s":"C2H5+","e":286.45,"i":78},{"s":"C2H5+","e":286.65,"i":82},{"s":"C2H5+","e":286.8,"i":86.3},{"s":"C2H5+","e":287.05,"i":90},{"s":"C2H5+","e":287.26,"i":93},{"s":"C2H5+","e":287.55,"i":97},{"s":"C2H5+","e":287.83,"i":101.3},{"s":"C2H5+","e":288.0,"i":106},{"s":"C2H5+","e":288.18,"i":111.3},{"s":"C2H5+","e":288.35,"i":117},{"s":"C2H5+","e":288.52,"i":123},{"s":"C2H5+","e":288.7,"i":129},{"s":"C2H5+","e":288.87,"i":134.7},{"s":"C2H5+","e":289.05,"i":139},{"s":"C2H5+","e":289.22,"i":141.3},{"s":"C2H5+","e":289.35,"i":142},{"s":"C2H5+","e":289.5,"i":136},{"s":"C2H5+","e":289.68,"i":129.7},{"s":"C2H5+","e":289.85,"i":123},{"s":"C2H5+","e":290.02,"i":118},{"s":"C2H5+","e":290.2,"i":114},{"s":"C2H5+","e":290.37,"i":111.3},{"s":"C2H5+","e":290.6,"i":112.5},{"s":"C2H5+","e":290.83,"i":114.5},{"s":"C2H5+","e":291.06,"i":116.3},{"s":"C2H5+","e":291.5,"i":118.5},{"s":"C2H5+","e":291.98,"i":121.3},{"s":"C2H5+","e":292.5,"i":123.5},{"s":"C2H5+","e":293.13,"i":126.3},{"s":"C2H5+","e":293.7,"i":124.5},{"s":"C2H5+","e":294.28,"i":123},{"s":"C2H5+","e":294.9,"i":121.5},{"s":"C2H5+","e":295.5,"i":120.5},{"s":"C2H5+","e":295.9,"i":119.7},{"s":"C2H5+","e":296.5,"i":119.7},{"s":"C2H5+","e":297.1,"i":119.7},{"s":"C2H5+","e":297.6,"i":119.7},{"s":"C2H5+","e":298.2,"i":119.7},{"s":"C2H5+","e":298.8,"i":119},{"s":"C2H5+","e":299.4,"i":118},{"s":"C2H5+","e":300,"i":117.3},
      {"s":"OC2H3+","e":285.05,"i":14.7},{"s":"OC2H3+","e":285.35,"i":14.7},{"s":"OC2H3+","e":285.64,"i":14.7},{"s":"OC2H3+","e":286.0,"i":15.5},{"s":"OC2H3+","e":286.3,"i":16},{"s":"OC2H3+","e":286.45,"i":16.3},{"s":"OC2H3+","e":286.65,"i":20},{"s":"OC2H3+","e":286.8,"i":24.7},{"s":"OC2H3+","e":287.05,"i":28},{"s":"OC2H3+","e":287.26,"i":31.3},{"s":"OC2H3+","e":287.55,"i":34},{"s":"OC2H3+","e":287.83,"i":36.3},{"s":"OC2H3+","e":287.95,"i":40},{"s":"OC2H3+","e":288.06,"i":44.7},{"s":"OC2H3+","e":288.18,"i":49},{"s":"OC2H3+","e":288.3,"i":53},{"s":"OC2H3+","e":288.45,"i":53.5},{"s":"OC2H3+","e":288.64,"i":53},{"s":"OC2H3+","e":288.87,"i":48},{"s":"OC2H3+","e":289.1,"i":47},{"s":"OC2H3+","e":289.4,"i":46.5},{"s":"OC2H3+","e":289.68,"i":46.3},{"s":"OC2H3+","e":290.0,"i":47.5},{"s":"OC2H3+","e":290.3,"i":49.5},{"s":"OC2H3+","e":290.6,"i":51.3},{"s":"OC2H3+","e":290.95,"i":53.8},{"s":"OC2H3+","e":291.29,"i":56.3},{"s":"OC2H3+","e":291.5,"i":59},{"s":"OC2H3+","e":291.75,"i":63},{"s":"OC2H3+","e":292.1,"i":67},{"s":"OC2H3+","e":292.45,"i":71.3},{"s":"OC2H3+","e":292.8,"i":74},{"s":"OC2H3+","e":293.13,"i":76.3},{"s":"OC2H3+","e":293.5,"i":75.5},{"s":"OC2H3+","e":293.83,"i":74.7},{"s":"OC2H3+","e":294.05,"i":72},{"s":"OC2H3+","e":294.28,"i":69.7},{"s":"OC2H3+","e":294.8,"i":68},{"s":"OC2H3+","e":295.44,"i":66.3},{"s":"OC2H3+","e":296.1,"i":65.5},{"s":"OC2H3+","e":296.82,"i":64.7},{"s":"OC2H3+","e":297.5,"i":63.3},{"s":"OC2H3+","e":298.2,"i":62},{"s":"OC2H3+","e":298.7,"i":61.5},{"s":"OC2H3+","e":299.12,"i":61.3},{"s":"OC2H3+","e":299.6,"i":60},{"s":"OC2H3+","e":300,"i":58.7}
    ],
    "pmma_lab": [
      {"k":"ion","t":"TEY","e":285.9,"i":515},{"k":"ion","t":"H⁺","e":285.9,"i":373},{"k":"ion","t":"CH⁺","e":285.55,"i":301},{"k":"ion","t":"CH₂⁺","e":285.55,"i":225},{"k":"ion","t":"CH₃⁺","e":285.55,"i":135},{"k":"ion","t":"OCH⁺","e":285.48,"i":70},
      {"k":"fac","t":"x 2","e":299.72,"i":362},{"k":"fac","t":"x 5","e":299.72,"i":294},{"k":"fac","t":"x 3","e":299.72,"i":221},{"k":"fac","t":"x 1","e":299.72,"i":116},{"k":"fac","t":"x 15","e":299.72,"i":51}
    ],
    "mhda_lab": [
      {"k":"ion","t":"TEY","e":285.9,"i":513},{"k":"ion","t":"H⁺","e":286.17,"i":401},{"k":"ion","t":"CH⁺","e":285.9,"i":330},{"k":"ion","t":"CH₂⁺","e":285.83,"i":258},{"k":"ion","t":"CH₃⁺","e":285.83,"i":186},{"k":"ion","t":"C₂H₃⁺","e":285.76,"i":136},{"k":"ion","t":"C₂H₅⁺, OCH⁺","e":288.66,"i":28},
      {"k":"fac","t":"x 1","e":298.82,"i":401},{"k":"fac","t":"x 2.5","e":299.3,"i":330},{"k":"fac","t":"x 1.5","e":299.3,"i":258},{"k":"fac","t":"x 1","e":299.3,"i":188},{"k":"fac","t":"x 60","e":299.03,"i":106},{"k":"fac","t":"x 30","e":299.03,"i":28}
    ],
    "mhdad3_lab": [
      {"k":"ion","t":"TEY","e":286.24,"i":515},{"k":"ion","t":"H⁺","e":285.55,"i":428},{"k":"ion","t":"D⁺","e":285.62,"i":366},{"k":"ion","t":"CD⁺","e":285.55,"i":295},{"k":"ion","t":"CD₂⁺","e":285.55,"i":230},{"k":"ion","t":"CD₃⁺","e":285.55,"i":176},{"k":"ion","t":"C₂H₅⁺","e":285.55,"i":126},{"k":"ion","t":"OCD⁺","e":285.55,"i":45},
      {"k":"fac","t":"x 4","e":299.58,"i":441},{"k":"fac","t":"x 2","e":299.58,"i":383},{"k":"fac","t":"x 2","e":299.58,"i":303},{"k":"fac","t":"x 1","e":299.58,"i":240},{"k":"fac","t":"x 1","e":299.45,"i":178},{"k":"fac","t":"x 55","e":299.45,"i":103},{"k":"fac","t":"x 20","e":299.45,"i":51}
    ],
    "ehda_lab": [
      {"k":"ion","t":"TEY","e":285.97,"i":513},{"k":"ion","t":"H⁺","e":285.62,"i":431},{"k":"ion","t":"CH₃⁺","e":285.48,"i":373},{"k":"ion","t":"C₂H₂⁺","e":285.48,"i":306},{"k":"ion","t":"C₂H₃⁺","e":285.48,"i":242},{"k":"ion","t":"C₂H₄⁺","e":285.41,"i":180},{"k":"ion","t":"C₂H₅⁺, OCH⁺","e":288.39,"i":98},{"k":"ion","t":"OC₂H₃⁺ (C₃H₇⁺)","e":287.7,"i":25},
      {"k":"fac","t":"x 0.2","e":300.3,"i":441},{"k":"fac","t":"x 9","e":299.5,"i":370},{"k":"fac","t":"x 3","e":299.5,"i":306},{"k":"fac","t":"x 1","e":299.5,"i":240},{"k":"fac","t":"x 10","e":299.45,"i":160},{"k":"fac","t":"x 3","e":299.45,"i":101},{"k":"fac","t":"x 20","e":299.45,"i":46}
    ]
  },
  "hconcat": [
    {
      "title": "(a) PMMA",
      "width": 217, "height": 538,
      "resolve": {"scale": {"x": "independent", "y": "independent"}},
      "layer": [
        {"data": {"name": "pmma"}, "transform": [{"filter": "datum.s === 'TEY'"}],
         "mark": {"type": "line", "color": "#ff00ff", "strokeWidth": 2.2, "interpolate": "monotone"},
         "encoding": {
           "x": {"field": "e", "type": "quantitative", "scale": {"domain": [285, 300], "nice": false, "zero": false},
                 "axis": {"orient": "bottom", "values": [286,288,290,292,294,296,298,300], "ticks": false, "labelPadding": 5, "labelFlush": false, "labelOverlap": false, "labelFontSize": 14, "title": "Photon Energy / eV", "titleFontSize": 19, "titlePadding": 5}},
           "y": {"field": "i", "type": "quantitative", "scale": {"domain": [0, 538], "nice": false, "zero": false},
                 "axis": {"orient": "left", "values": [20,43.5,67,90.5,114,137.5,161,184.5,208,231.5,255,278.5,302,325.5,349,372.5,396,419.5,443,466.5,490,513.5,537], "labels": false, "title": "Relative Intensity \u00a0/ arb. units", "titleFontSize": 22, "titleX": -23, "titleY": 260, "titleBaseline": "alphabetic", "titleAngle": -90, "tickSize": {"condition": {"test": "(datum.value - 20) % 47 === 0", "value": -6}, "value": -3}}}
         }},
        {"data": {"name": "pmma"}, "transform": [{"filter": "datum.s !== 'TEY'"}],
         "mark": {"type": "line", "color": "#1010ff", "strokeWidth": 1.2, "point": {"filled": true, "size": 22, "color": "#1010ff"}},
         "encoding": {
           "x": {"field": "e", "type": "quantitative", "scale": {"domain": [285, 300], "nice": false, "zero": false},
                 "axis": {"orient": "bottom", "values": [285.5,286,286.5,287,287.5,288,288.5,289,289.5,290,290.5,291,291.5,292,292.5,293,293.5,294,294.5,295,295.5,296,296.5,297,297.5,298,298.5,299,299.5], "labels": false, "title": null, "tickSize": {"condition": {"test": "datum.value % 1 === 0", "value": -5}, "value": -3}}},
           "y": {"field": "i", "type": "quantitative", "scale": {"domain": [0, 538], "nice": false, "zero": false},
                 "axis": {"orient": "right", "values": [20,43.5,67,90.5,114,137.5,161,184.5,208,231.5,255,278.5,302,325.5,349,372.5,396,419.5,443,466.5,490,513.5,537], "labels": false, "title": null, "tickSize": {"condition": {"test": "(datum.value - 20) % 47 === 0", "value": -6}, "value": -3}}},
           "detail": {"field": "s"}
         }},
        {"data": {"name": "pmma_lab"}, "transform": [{"filter": "datum.k === 'ion'"}],
         "mark": {"type": "text", "align": "left", "baseline": "middle", "fontSize": 14},
         "encoding": {
           "x": {"field": "e", "type": "quantitative", "scale": {"domain": [285, 300], "nice": false, "zero": false},
                 "axis": {"orient": "top", "values": [285.5,286,286.5,287,287.5,288,288.5,289,289.5,290,290.5,291,291.5,292,292.5,293,293.5,294,294.5,295,295.5,296,296.5,297,297.5,298,298.5,299,299.5], "labels": false, "title": null, "tickSize": {"condition": {"test": "datum.value % 1 === 0", "value": -5}, "value": -3}}},
           "y": {"field": "i", "type": "quantitative", "scale": {"domain": [0, 538], "nice": false, "zero": false}, "axis": null},
           "text": {"field": "t"}
         }},
        {"data": {"name": "pmma_lab"}, "transform": [{"filter": "datum.k === 'fac'"}],
         "mark": {"type": "text", "align": "right", "baseline": "middle", "fontSize": 12},
         "encoding": {
           "x": {"field": "e", "type": "quantitative", "scale": {"domain": [285, 300], "nice": false, "zero": false}, "axis": null},
           "y": {"field": "i", "type": "quantitative", "scale": {"domain": [0, 538], "nice": false, "zero": false}, "axis": null},
           "text": {"field": "t"}
         }}
      ]
    },
    {
      "title": "(b) MHDA",
      "width": 217, "height": 538,
      "resolve": {"scale": {"x": "independent", "y": "independent"}},
      "layer": [
        {"data": {"name": "mhda"}, "transform": [{"filter": "datum.s === 'TEY'"}],
         "mark": {"type": "line", "color": "#ff00ff", "strokeWidth": 2.2, "interpolate": "monotone"},
         "encoding": {
           "x": {"field": "e", "type": "quantitative", "scale": {"domain": [285, 300], "nice": false, "zero": false},
                 "axis": {"orient": "bottom", "values": [286,288,290,292,294,296,298,300], "ticks": false, "labelPadding": 5, "labelFlush": false, "labelOverlap": false, "labelFontSize": 14, "title": "Photon Energy / eV", "titleFontSize": 19, "titlePadding": 5}},
           "y": {"field": "i", "type": "quantitative", "scale": {"domain": [0, 538], "nice": false, "zero": false},
                 "axis": {"orient": "left", "values": [20,43.5,67,90.5,114,137.5,161,184.5,208,231.5,255,278.5,302,325.5,349,372.5,396,419.5,443,466.5,490,513.5,537], "labels": false, "title": null, "tickSize": {"condition": {"test": "(datum.value - 20) % 47 === 0", "value": -6}, "value": -3}}}
         }},
        {"data": {"name": "mhda"}, "transform": [{"filter": "datum.s !== 'TEY'"}],
         "mark": {"type": "line", "color": "#1010ff", "strokeWidth": 1.2, "point": {"filled": true, "size": 22, "color": "#1010ff"}},
         "encoding": {
           "x": {"field": "e", "type": "quantitative", "scale": {"domain": [285, 300], "nice": false, "zero": false},
                 "axis": {"orient": "bottom", "values": [285.5,286,286.5,287,287.5,288,288.5,289,289.5,290,290.5,291,291.5,292,292.5,293,293.5,294,294.5,295,295.5,296,296.5,297,297.5,298,298.5,299,299.5], "labels": false, "title": null, "tickSize": {"condition": {"test": "datum.value % 1 === 0", "value": -5}, "value": -3}}},
           "y": {"field": "i", "type": "quantitative", "scale": {"domain": [0, 538], "nice": false, "zero": false},
                 "axis": {"orient": "right", "values": [20,43.5,67,90.5,114,137.5,161,184.5,208,231.5,255,278.5,302,325.5,349,372.5,396,419.5,443,466.5,490,513.5,537], "labels": false, "title": null, "tickSize": {"condition": {"test": "(datum.value - 20) % 47 === 0", "value": -6}, "value": -3}}},
           "detail": {"field": "s"}
         }},
        {"data": {"name": "mhda_lab"}, "transform": [{"filter": "datum.k === 'ion'"}],
         "mark": {"type": "text", "align": "left", "baseline": "middle", "fontSize": 14},
         "encoding": {
           "x": {"field": "e", "type": "quantitative", "scale": {"domain": [285, 300], "nice": false, "zero": false},
                 "axis": {"orient": "top", "values": [285.5,286,286.5,287,287.5,288,288.5,289,289.5,290,290.5,291,291.5,292,292.5,293,293.5,294,294.5,295,295.5,296,296.5,297,297.5,298,298.5,299,299.5], "labels": false, "title": null, "tickSize": {"condition": {"test": "datum.value % 1 === 0", "value": -5}, "value": -3}}},
           "y": {"field": "i", "type": "quantitative", "scale": {"domain": [0, 538], "nice": false, "zero": false}, "axis": null},
           "text": {"field": "t"}
         }},
        {"data": {"name": "mhda_lab"}, "transform": [{"filter": "datum.k === 'fac'"}],
         "mark": {"type": "text", "align": "right", "baseline": "middle", "fontSize": 12},
         "encoding": {
           "x": {"field": "e", "type": "quantitative", "scale": {"domain": [285, 300], "nice": false, "zero": false}, "axis": null},
           "y": {"field": "i", "type": "quantitative", "scale": {"domain": [0, 538], "nice": false, "zero": false}, "axis": null},
           "text": {"field": "t"}
         }}
      ]
    },
    {
      "title": "(c) MHDA-d₃",
      "width": 217, "height": 538,
      "resolve": {"scale": {"x": "independent", "y": "independent"}},
      "layer": [
        {"data": {"name": "mhdad3"}, "transform": [{"filter": "datum.s === 'TEY'"}],
         "mark": {"type": "line", "color": "#ff00ff", "strokeWidth": 2.2, "interpolate": "monotone"},
         "encoding": {
           "x": {"field": "e", "type": "quantitative", "scale": {"domain": [285, 300], "nice": false, "zero": false},
                 "axis": {"orient": "bottom", "values": [286,288,290,292,294,296,298,300], "ticks": false, "labelPadding": 5, "labelFlush": false, "labelOverlap": false, "labelFontSize": 14, "title": "Photon Energy / eV", "titleFontSize": 19, "titlePadding": 5}},
           "y": {"field": "i", "type": "quantitative", "scale": {"domain": [0, 538], "nice": false, "zero": false},
                 "axis": {"orient": "left", "values": [20,43.5,67,90.5,114,137.5,161,184.5,208,231.5,255,278.5,302,325.5,349,372.5,396,419.5,443,466.5,490,513.5,537], "labels": false, "title": null, "tickSize": {"condition": {"test": "(datum.value - 20) % 47 === 0", "value": -6}, "value": -3}}}
         }},
        {"data": {"name": "mhdad3"}, "transform": [{"filter": "datum.s !== 'TEY'"}],
         "mark": {"type": "line", "color": "#1010ff", "strokeWidth": 1.2, "point": {"filled": true, "size": 22, "color": "#1010ff"}},
         "encoding": {
           "x": {"field": "e", "type": "quantitative", "scale": {"domain": [285, 300], "nice": false, "zero": false},
                 "axis": {"orient": "bottom", "values": [285.5,286,286.5,287,287.5,288,288.5,289,289.5,290,290.5,291,291.5,292,292.5,293,293.5,294,294.5,295,295.5,296,296.5,297,297.5,298,298.5,299,299.5], "labels": false, "title": null, "tickSize": {"condition": {"test": "datum.value % 1 === 0", "value": -5}, "value": -3}}},
           "y": {"field": "i", "type": "quantitative", "scale": {"domain": [0, 538], "nice": false, "zero": false},
                 "axis": {"orient": "right", "values": [20,43.5,67,90.5,114,137.5,161,184.5,208,231.5,255,278.5,302,325.5,349,372.5,396,419.5,443,466.5,490,513.5,537], "labels": false, "title": null, "tickSize": {"condition": {"test": "(datum.value - 20) % 47 === 0", "value": -6}, "value": -3}}},
           "detail": {"field": "s"}
         }},
        {"data": {"name": "mhdad3_lab"}, "transform": [{"filter": "datum.k === 'ion'"}],
         "mark": {"type": "text", "align": "left", "baseline": "middle", "fontSize": 14},
         "encoding": {
           "x": {"field": "e", "type": "quantitative", "scale": {"domain": [285, 300], "nice": false, "zero": false},
                 "axis": {"orient": "top", "values": [285.5,286,286.5,287,287.5,288,288.5,289,289.5,290,290.5,291,291.5,292,292.5,293,293.5,294,294.5,295,295.5,296,296.5,297,297.5,298,298.5,299,299.5], "labels": false, "title": null, "tickSize": {"condition": {"test": "datum.value % 1 === 0", "value": -5}, "value": -3}}},
           "y": {"field": "i", "type": "quantitative", "scale": {"domain": [0, 538], "nice": false, "zero": false}, "axis": null},
           "text": {"field": "t"}
         }},
        {"data": {"name": "mhdad3_lab"}, "transform": [{"filter": "datum.k === 'fac'"}],
         "mark": {"type": "text", "align": "right", "baseline": "middle", "fontSize": 12},
         "encoding": {
           "x": {"field": "e", "type": "quantitative", "scale": {"domain": [285, 300], "nice": false, "zero": false}, "axis": null},
           "y": {"field": "i", "type": "quantitative", "scale": {"domain": [0, 538], "nice": false, "zero": false}, "axis": null},
           "text": {"field": "t"}
         }}
      ]
    },
    {
      "title": "(d) EHDA",
      "width": 217, "height": 538,
      "resolve": {"scale": {"x": "independent", "y": "independent"}},
      "layer": [
        {"data": {"name": "ehda"}, "transform": [{"filter": "datum.s === 'TEY'"}],
         "mark": {"type": "line", "color": "#ff00ff", "strokeWidth": 2.2, "interpolate": "monotone"},
         "encoding": {
           "x": {"field": "e", "type": "quantitative", "scale": {"domain": [285, 300], "nice": false, "zero": false},
                 "axis": {"orient": "bottom", "values": [286,288,290,292,294,296,298,300], "ticks": false, "labelPadding": 5, "labelFlush": false, "labelOverlap": false, "labelFontSize": 14, "title": "Photon Energy / eV", "titleFontSize": 19, "titlePadding": 5}},
           "y": {"field": "i", "type": "quantitative", "scale": {"domain": [0, 538], "nice": false, "zero": false},
                 "axis": {"orient": "left", "values": [20,43.5,67,90.5,114,137.5,161,184.5,208,231.5,255,278.5,302,325.5,349,372.5,396,419.5,443,466.5,490,513.5,537], "labels": false, "title": null, "tickSize": {"condition": {"test": "(datum.value - 20) % 47 === 0", "value": -6}, "value": -3}}}
         }},
        {"data": {"name": "ehda"}, "transform": [{"filter": "datum.s !== 'TEY'"}],
         "mark": {"type": "line", "color": "#1010ff", "strokeWidth": 1.2, "point": {"filled": true, "size": 22, "color": "#1010ff"}},
         "encoding": {
           "x": {"field": "e", "type": "quantitative", "scale": {"domain": [285, 300], "nice": false, "zero": false},
                 "axis": {"orient": "bottom", "values": [285.5,286,286.5,287,287.5,288,288.5,289,289.5,290,290.5,291,291.5,292,292.5,293,293.5,294,294.5,295,295.5,296,296.5,297,297.5,298,298.5,299,299.5], "labels": false, "title": null, "tickSize": {"condition": {"test": "datum.value % 1 === 0", "value": -5}, "value": -3}}},
           "y": {"field": "i", "type": "quantitative", "scale": {"domain": [0, 538], "nice": false, "zero": false},
                 "axis": {"orient": "right", "values": [20,43.5,67,90.5,114,137.5,161,184.5,208,231.5,255,278.5,302,325.5,349,372.5,396,419.5,443,466.5,490,513.5,537], "labels": false, "title": null, "tickSize": {"condition": {"test": "(datum.value - 20) % 47 === 0", "value": -6}, "value": -3}}},
           "detail": {"field": "s"}
         }},
        {"data": {"name": "ehda_lab"}, "transform": [{"filter": "datum.k === 'ion'"}],
         "mark": {"type": "text", "align": "left", "baseline": "middle", "fontSize": 14},
         "encoding": {
           "x": {"field": "e", "type": "quantitative", "scale": {"domain": [285, 300], "nice": false, "zero": false},
                 "axis": {"orient": "top", "values": [285.5,286,286.5,287,287.5,288,288.5,289,289.5,290,290.5,291,291.5,292,292.5,293,293.5,294,294.5,295,295.5,296,296.5,297,297.5,298,298.5,299,299.5], "labels": false, "title": null, "tickSize": {"condition": {"test": "datum.value % 1 === 0", "value": -5}, "value": -3}}},
           "y": {"field": "i", "type": "quantitative", "scale": {"domain": [0, 538], "nice": false, "zero": false}, "axis": null},
           "text": {"field": "t"}
         }},
        {"data": {"name": "ehda_lab"}, "transform": [{"filter": "datum.k === 'fac'"}],
         "mark": {"type": "text", "align": "right", "baseline": "middle", "fontSize": 12},
         "encoding": {
           "x": {"field": "e", "type": "quantitative", "scale": {"domain": [285, 300], "nice": false, "zero": false}, "axis": null},
           "y": {"field": "i", "type": "quantitative", "scale": {"domain": [0, 538], "nice": false, "zero": false}, "axis": null},
           "text": {"field": "t"}
         }}
      ]
    }
  ]
}
